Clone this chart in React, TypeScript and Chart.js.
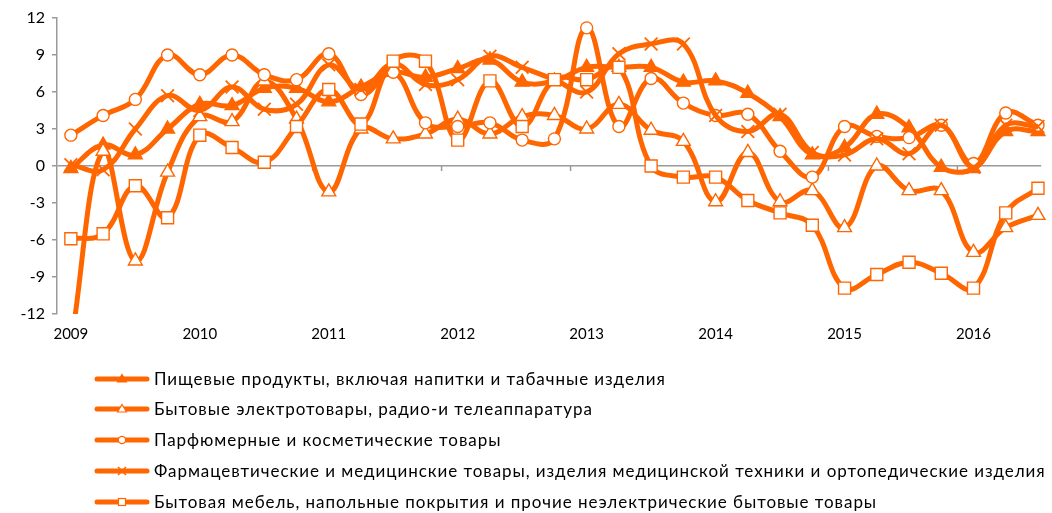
import React, { useEffect, useRef } from "react";
import { Chart, registerables } from "chart.js";

Chart.register(...registerables);

const ORANGE = "#FF6600";
const AXIS = "#9a9a9a";

const years = ["2009", "2010", "2011", "2012", "2013", "2014", "2015", "2016"];
const quarterNames = ["I", "II", "III", "IV"];
const categories = years.flatMap((y) => quarterNames.map((q) => `${q} кв. ${y}`)).slice(0, 31);
const yTickValues = [-12, -9, -6, -3, 0, 3, 6, 9, 12];

const seriesNames = [
  "Пищевые продукты, включая напитки и табачные изделия",
  "Бытовые электротовары, радио-и телеаппаратура",
  "Парфюмерные и косметические товары",
  "Фармацевтические и медицинские товары, изделия медицинской техники и ортопедические изделия",
  "Бытовая мебель, напольные покрытия и прочие неэлектрические бытовые товары",
];

const food = [-0.2, 1.7, 0.9, 3.0, 5.0, 4.9, 6.3, 6.3, 5.2, 6.4, 7.6, 7.2, 7.9, 8.6, 6.8, 6.9, 8.0, 8.0, 8.0, 6.8, 6.9, 5.9, 4.0, 0.9, 1.5, 4.2, 3.1, -0.1, -0.2, 2.8, 2.8];
const electro = [-14.5, 1.2, -7.7, -0.5, 4.0, 3.6, 6.9, 3.8, -2.1, 3.0, 2.2, 2.6, 3.8, 2.6, 4.0, 4.1, 3.0, 5.0, 2.9, 2.0, -2.9, 1.1, -2.9, -2.0, -5.0, 0.0, -2.0, -2.0, -7.0, -5.0, -4.0];
const perfume = [2.5, 4.1, 5.4, 9.0, 7.4, 9.0, 7.4, 7.0, 9.1, 5.8, 7.6, 3.5, 3.2, 3.5, 2.1, 2.2, 11.2, 3.2, 7.1, 5.1, 4.1, 4.2, 1.2, -0.9, 3.2, 2.4, 2.3, 3.3, 0.2, 4.3, 3.3];
const pharma = [0.1, -0.3, 3.0, 5.7, 4.5, 6.4, 4.6, 5.0, 8.2, 6.2, 8.3, 6.6, 7.0, 8.9, 8.0, 7.0, 6.0, 9.1, 9.9, 9.9, 4.1, 2.8, 4.2, 1.1, 0.9, 2.2, 1.0, 3.3, -0.1, 3.3, 3.2];
const furniture = [-5.9, -5.5, -1.6, -4.2, 2.5, 1.5, 0.3, 3.2, 6.2, 3.4, 8.5, 8.5, 2.1, 6.9, 3.2, 7.0, 7.0, 8.0, 0.0, -0.9, -0.9, -2.8, -3.8, -4.8, -9.9, -8.8, -7.8, -8.7, -9.9, -3.8, -1.8];

const seriesData = [food, electro, perfume, pharma, furniture];
const markerStyles = ["triangle", "triangle", "circle", "crossRot", "rect"];
const markerFills = [ORANGE, "#ffffff", "#ffffff", "#ffffff", "#ffffff"];
const markerRadii = [8, 8, 6, 9, 8.5];

const FONT = 'Lato, "Noto Sans", "DejaVu Sans", sans-serif';

const zeroTicksPlugin = {
  id: "zeroTicks",
  beforeDatasetsDraw(chart: any) {
    const { ctx, scales } = chart;
    const xs = scales.x;
    const ys = scales.y;
    const y0 = ys.getPixelForValue(0);
    ctx.save();
    ctx.strokeStyle = AXIS;
    ctx.lineWidth = 1.5;
    for (let k = 1; k < years.length; k++) {
      const px = xs.getPixelForValue(4 * k - 0.5);
      ctx.beginPath();
      ctx.moveTo(px, y0);
      ctx.lineTo(px, y0 + 5);
      ctx.stroke();
    }
    ctx.restore();
  },
};

function LegendSample({ idx }: { idx: number }) {
  const cx = 28;
  const cy = 8;
  let marker: React.ReactNode = null;
  const sw = 1.2;
  if (idx === 0) {
    marker = <polygon points={`${cx},${cy - 4.5} ${cx + 4.5},${cy + 3} ${cx - 4.5},${cy + 3}`} fill={ORANGE} stroke={ORANGE} strokeWidth={sw} />;
  } else if (idx === 1) {
    marker = <polygon points={`${cx},${cy - 4.5} ${cx + 4.5},${cy + 3} ${cx - 4.5},${cy + 3}`} fill="#fff" stroke={ORANGE} strokeWidth={sw} />;
  } else if (idx === 2) {
    marker = <circle cx={cx} cy={cy} r={3.6} fill="#fff" stroke={ORANGE} strokeWidth={sw} />;
  } else if (idx === 3) {
    marker = (
      <g stroke={ORANGE} strokeWidth={1.6}>
        <line x1={cx - 4} y1={cy - 4} x2={cx + 4} y2={cy + 4} />
        <line x1={cx - 4} y1={cy + 4} x2={cx + 4} y2={cy - 4} />
      </g>
    );
  } else {
    marker = <rect x={cx - 3.5} y={cy - 3.5} width={7} height={7} fill="#fff" stroke={ORANGE} strokeWidth={sw} />;
  }
  return (
    <svg width={56} height={16} style={{ position: "absolute", left: 94, top: -8 }}>
      <line x1={3} y1={cy} x2={53} y2={cy} stroke={ORANGE} strokeWidth={5} strokeLinecap="round" />
      {marker}
    </svg>
  );
}

export default function App() {
  const canvasRef = useRef<HTMLCanvasElement>(null);

  useEffect(() => {
    if (!canvasRef.current) return;
    const datasets = seriesData.map((arr, i) => ({
      label: seriesNames[i],
      data: arr.map((v, j) => ({ x: j, y: v, c: categories[j] })),
      borderColor: ORANGE,
      backgroundColor: ORANGE,
      borderWidth: 5,
      tension: 0.4,
      pointStyle: markerStyles[i],
      pointRadius: markerRadii[i],
      pointBackgroundColor: markerFills[i],
      pointBorderColor: ORANGE,
      pointBorderWidth: i === 3 ? 1.8 : 1.4,
      clip: { left: 0, top: 12, right: 14, bottom: 0 },
      order: seriesData.length - i,
      fill: false,
    }));

    const chart = new Chart(canvasRef.current, {
      type: "line",
      data: { datasets: datasets as any },
      options: {
        animation: false,
        responsive: false,
        maintainAspectRatio: false,
        layout: { padding: { top: 18, right: 3, bottom: 159, left: 0 } },
        plugins: { legend: { display: false }, tooltip: { enabled: false } },
        scales: {
          x: {
            type: "linear",
            min: -0.43,
            max: 30.1,
            afterBuildTicks: (s: any) => {
              s.ticks = years.map((_, k) => ({ value: 4 * k }));
            },
            ticks: {
              autoSkip: false,
              maxRotation: 0,
              padding: 11,
              color: "#000",
              font: { family: FONT, size: 15 },
              callback: (v: any) => years[Math.round(Number(v) / 4)] ?? "",
            },
            grid: { display: false, drawTicks: false },
            border: { display: false },
          },
          y: {
            min: -12,
            max: 12,
            afterBuildTicks: (s: any) => {
              s.ticks = yTickValues.map((v) => ({ value: v }));
            },
            afterFit: (s: any) => {
              s.width = 57;
            },
            ticks: {
              padding: 7,
              color: "#000",
              font: { family: FONT, size: 16 },
            },
            grid: {
              color: (c: any) => (c.tick && c.tick.value === 0 ? AXIS : "rgba(0,0,0,0)"),
              lineWidth: 1.5,
              tickColor: AXIS,
              tickLength: 5,
              drawTicks: true,
            },
            border: { color: AXIS, width: 1.5 },
          },
        },
      },
      plugins: [zeroTicksPlugin],
    });
    return () => chart.destroy();
  }, []);

  const rowCenters = [379, 409, 440, 471, 502];

  return (
    <div style={{ position: "fixed", left: 0, top: 0, width: 1052, height: 513, background: "#fff", overflow: "hidden" }}>
      <canvas ref={canvasRef} width={1052} height={513} style={{ position: "absolute", left: 0, top: 0, width: 1052, height: 513 }} />
      {seriesNames.map((name, i) => (
        <div key={i} style={{ position: "absolute", left: 0, top: rowCenters[i], width: 1052, height: 0 }}>
          <LegendSample idx={i} />
          <div
            style={{
              position: "absolute",
              left: 154,
              top: -11,
              lineHeight: "22px",
              fontFamily: FONT,
              fontSize: 17,
              letterSpacing: "0.95px",
              whiteSpace: "nowrap",
              color: "#000",
            }}
          >
            {name}
          </div>
        </div>
      ))}
    </div>
  );
}
